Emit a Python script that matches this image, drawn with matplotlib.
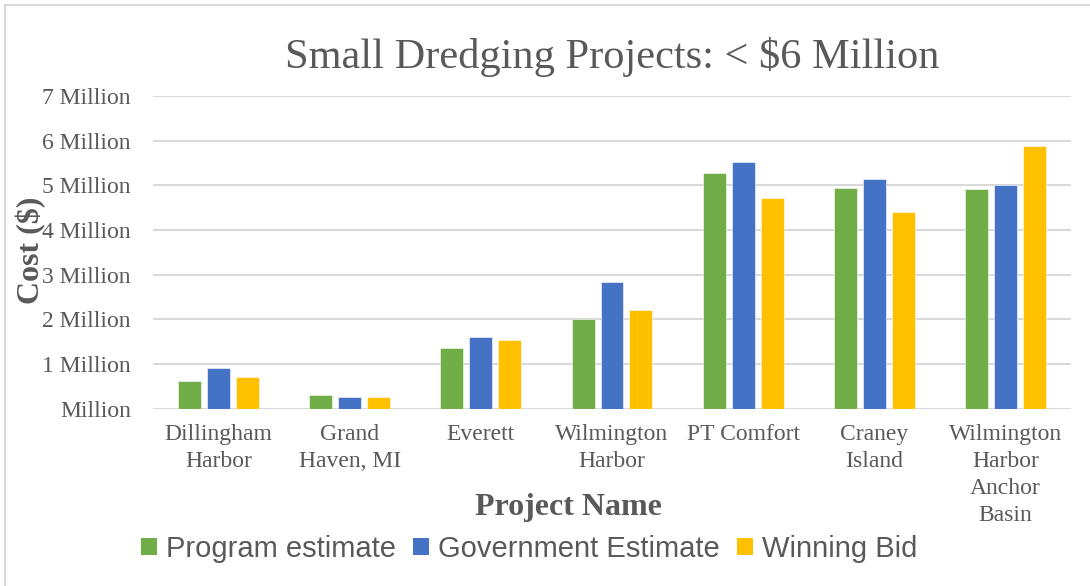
import matplotlib
matplotlib.use("Agg")
import matplotlib.pyplot as plt
from matplotlib import font_manager
from matplotlib.patches import Rectangle, Patch
import numpy as np

projects = ["Dillingham\nHarbor", "Grand\nHaven, MI", "Everett", "Wilmington\nHarbor",
            "PT Comfort", "Craney\nIsland", "Wilmington\nHarbor\nAnchor\nBasin"]
program_est = [0.62, 0.31, 1.36, 2.01, 5.28, 4.95, 4.92]
government_est = [0.90, 0.26, 1.60, 2.83, 5.52, 5.14, 5.01]
winning_bid = [0.70, 0.26, 1.54, 2.21, 4.72, 4.41, 5.89]
series_names = ["Program estimate", "Government Estimate", "Winning Bid"]
colors = ["#70AD47", "#4472C4", "#FFC000"]
yticks = [0, 1, 2, 3, 4, 5, 6, 7]
ytick_labels = ["Million", "1 Million", "2 Million", "3 Million", "4 Million",
                "5 Million", "6 Million", "7 Million"]

txt = "#595959"
serif = "Liberation Serif"
installed = {f.name for f in font_manager.fontManager.ttflist}
if "Liberation Sans Narrow" in installed:
    leg_font, leg_size = "Liberation Sans Narrow", 24
else:
    leg_font, leg_size = "Liberation Sans", 21

fig = plt.figure(figsize=(10.9, 5.86), dpi=100)
ax = fig.add_axes([153/1090, 1 - 408.7/586, (1071 - 153)/1090, (408.7 - 96)/586])

x = np.arange(len(projects))
w = 23/131.2
step = 29/131.2
for k, vals in enumerate([program_est, government_est, winning_bid]):
    ax.bar(x + (k - 1)*step, vals, width=w, color=colors[k], edgecolor="white",
           linewidth=0.4, zorder=3)

ax.set_xlim(-0.5, len(projects) - 0.5)
ax.set_ylim(0, 7)
ax.set_yticks(yticks)
ax.set_yticklabels(ytick_labels, family=serif, fontsize=17, color=txt)
ax.set_xticks(x)
ax.set_xticklabels(projects, family=serif, fontsize=17, color=txt, linespacing=1.38)
ax.tick_params(axis="both", length=0)
ax.tick_params(axis="y", pad=16)
ax.tick_params(axis="x", pad=11)
ax.grid(axis="y", color="#d9d9d9", linewidth=1.5, zorder=0)
for s in ax.spines.values():
    s.set_visible(False)

fig.text(612/1090, 1 - 57/586, "Small Dredging Projects: < $6 Million", family=serif,
         fontsize=30.5, color=txt, ha="center", va="center")
fig.text(568/1090, 1 - 507/586, "Project Name", family=serif, fontsize=23,
         fontweight="bold", color=txt, ha="center", va="center")
fig.text(31/1090, 1 - 250/586, "Cost ($)", family=serif, fontsize=23,
         fontweight="bold", color=txt, ha="center", va="center", rotation=90)

handles = [Patch(facecolor=c, label=n) for c, n in zip(colors, series_names)]
leg = fig.legend(handles=handles, loc="center", bbox_to_anchor=(529/1090, 1 - 549/586),
                 ncol=3, frameon=False, handlelength=0.55, handleheight=0.55,
                 handletextpad=0.3, columnspacing=0.6,
                 prop={"family": leg_font, "size": leg_size})
for t in leg.get_texts():
    t.set_color(txt)

fig.patches.append(Rectangle((5/1090, -0.05), 1.1, 1 - 5/586 + 0.05,
                             transform=fig.transFigure, fill=False,
                             edgecolor="#d9d9d9", linewidth=1.5))

fig.savefig("out.png", dpi=100)
